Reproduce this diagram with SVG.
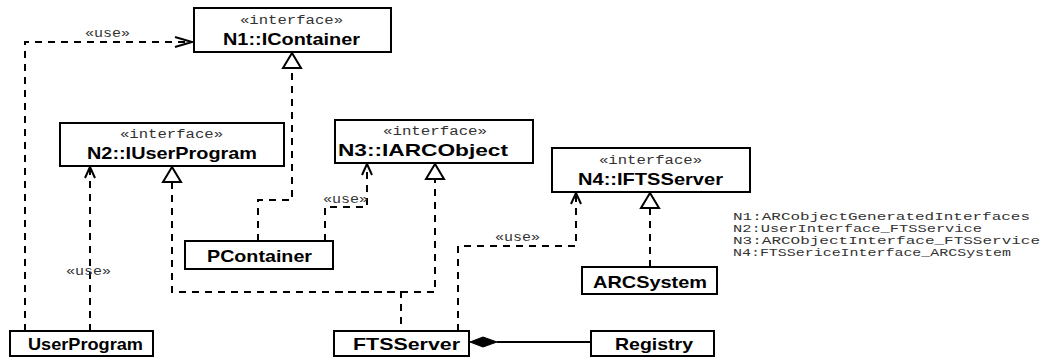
<svg xmlns="http://www.w3.org/2000/svg" width="1049" height="362" viewBox="0 0 1049 362">
<style>
.box{fill:#fff;stroke:#000;stroke-width:2}
.nm{font-family:"Liberation Sans",Arial,sans-serif;font-weight:bold;font-size:17px;fill:#000}
.st{font-family:"Liberation Mono","Courier New",monospace;font-size:12px;fill:#333}
.lg{font-family:"Liberation Mono","Courier New",monospace;font-size:11px;fill:#333}
.dash{fill:none;stroke:#000;stroke-width:2;stroke-dasharray:7,6}
.solid{fill:none;stroke:#000;stroke-width:2}
.open{fill:none;stroke:#000;stroke-width:2}
.tri{fill:#fff;stroke:#000;stroke-width:2}
</style>
<g id="connectors">
  <path class="dash" d="M25,331 V42 H191"/>
  <path class="open" d="M175,37 L192,42 L175,47"/>
  <text class="st" x="85" y="37" textLength="45" lengthAdjust="spacingAndGlyphs">«use»</text>
  <path class="dash" d="M90,331 V168"/>
  <path class="open" d="M85,178 L90,167 L95,178"/>
  <text class="st" x="66" y="275" textLength="45" lengthAdjust="spacingAndGlyphs">«use»</text>
  <path class="dash" d="M258,241 V200 H292 V68"/>
  <path class="tri" d="M292,53 L283,68 L301,68 Z"/>
  <path class="dash" d="M325,241 V207 H367 V165"/>
  <path class="open" d="M362,175 L367,164 L372,175"/>
  <text class="st" x="323" y="203" textLength="45" lengthAdjust="spacingAndGlyphs">«use»</text>
  <path class="dash" d="M172,182 V292 H401 V331"/>
  <path class="tri" d="M172,167 L163,182 L181,182 Z"/>
  <path class="dash" d="M435,179 V292 H337" stroke-dashoffset="3"/>
  <path class="tri" d="M435,164 L426,179 L444,179 Z"/>
  <path class="dash" d="M458,331 V246 H576 V194"/>
  <path class="open" d="M571,204 L576,193 L581,204"/>
  <text class="st" x="495" y="241" textLength="45" lengthAdjust="spacingAndGlyphs">«use»</text>
  <path class="dash" d="M650,208 V267"/>
  <path class="tri" d="M650,193 L641,208 L659,208 Z"/>
  <path class="solid" d="M497,342 H591"/>
  <path d="M470,342 L483,337 L497,342 L483,347 Z" fill="#000" stroke="#000" stroke-width="1"/>
</g>
<g id="N1">
  <rect class="box" x="194" y="8" width="197" height="44"/>
  <text class="st" x="240" y="24" textLength="103" lengthAdjust="spacingAndGlyphs">«interface»</text>
  <text class="nm" x="223" y="45" textLength="137" lengthAdjust="spacingAndGlyphs">N1::IContainer</text>
</g>
<g id="N2">
  <rect class="box" x="60" y="123" width="224" height="43"/>
  <text class="st" x="120" y="138" textLength="103" lengthAdjust="spacingAndGlyphs">«interface»</text>
  <text class="nm" x="87" y="159" textLength="170" lengthAdjust="spacingAndGlyphs">N2::IUserProgram</text>
</g>
<g id="N3">
  <rect class="box" x="335" y="120" width="198" height="43"/>
  <text class="st" x="383" y="135" textLength="104" lengthAdjust="spacingAndGlyphs">«interface»</text>
  <text class="nm" x="338" y="156" textLength="170" lengthAdjust="spacingAndGlyphs">N3::IARCObject</text>
</g>
<g id="N4">
  <rect class="box" x="552" y="148" width="198" height="44"/>
  <text class="st" x="599" y="164" textLength="103" lengthAdjust="spacingAndGlyphs">«interface»</text>
  <text class="nm" x="578" y="185" textLength="145" lengthAdjust="spacingAndGlyphs">N4::IFTSServer</text>
</g>
<g id="PContainer">
  <rect class="box" x="185" y="241" width="148" height="28"/>
  <text class="nm" x="207" y="262" textLength="105" lengthAdjust="spacingAndGlyphs">PContainer</text>
</g>
<g id="ARCSystem">
  <rect class="box" x="582" y="267" width="135" height="27"/>
  <text class="nm" x="593" y="288" textLength="114" lengthAdjust="spacingAndGlyphs">ARCSystem</text>
</g>
<g id="UserProgram">
  <rect class="box" x="10" y="331" width="143" height="25"/>
  <text class="nm" x="28" y="350" textLength="115" lengthAdjust="spacingAndGlyphs">UserProgram</text>
</g>
<g id="FTSServer">
  <rect class="box" x="334" y="331" width="135" height="25"/>
  <text class="nm" x="353" y="350" textLength="107" lengthAdjust="spacingAndGlyphs">FTSServer</text>
</g>
<g id="Registry">
  <rect class="box" x="591" y="331" width="123" height="25"/>
  <text class="nm" x="615" y="350" textLength="78" lengthAdjust="spacingAndGlyphs">Registry</text>
</g>
<g id="legend">
  <text class="lg" x="733" y="220" textLength="297" lengthAdjust="spacingAndGlyphs">N1:ARCobjectGeneratedInterfaces</text>
  <text class="lg" x="733" y="232" textLength="249" lengthAdjust="spacingAndGlyphs">N2:UserInterface_FTSService</text>
  <text class="lg" x="733" y="244" textLength="307" lengthAdjust="spacingAndGlyphs">N3:ARCObjectInterface_FTSService</text>
  <text class="lg" x="733" y="256" textLength="278" lengthAdjust="spacingAndGlyphs">N4:FTSSericeInterface_ARCSystem</text>
</g>
</svg>
